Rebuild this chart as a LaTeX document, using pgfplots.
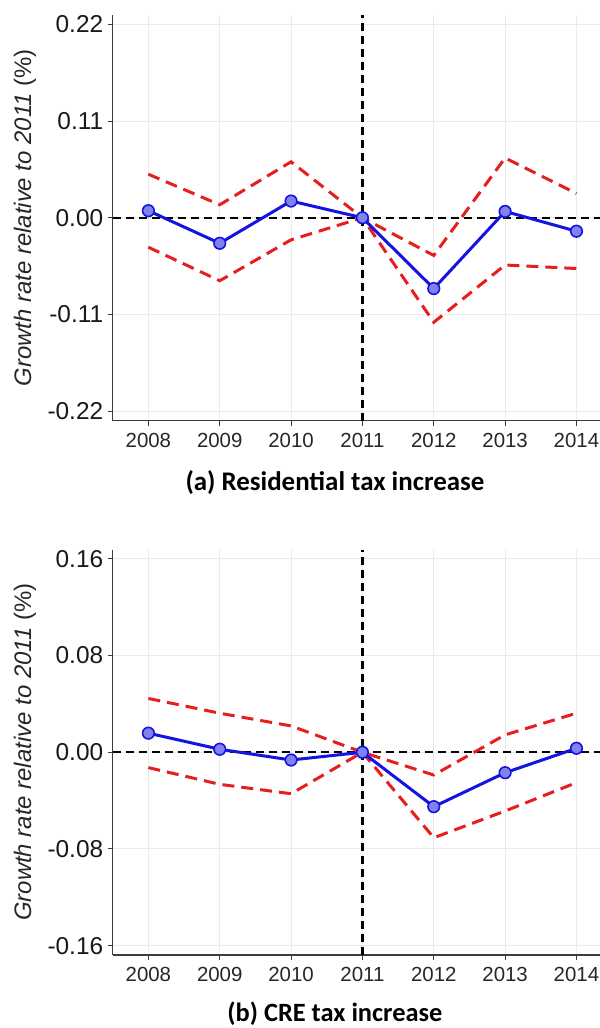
\documentclass[border=0pt]{standalone}
\usepackage{fontspec}
\setmainfont{Liberation Sans}
\newfontfamily\titlefont{Carlito}
\usepackage{pgfplots}
\usepackage{pgfplotstable}
\pgfplotsset{compat=1.18}
\definecolor{mainblue}{RGB}{20,20,225}
\definecolor{markfill}{RGB}{130,130,238}
\definecolor{cired}{RGB}{230,30,30}
\definecolor{axgray}{RGB}{60,60,60}

\pgfplotstableread{
x mid lo hi
0 0.0080 -0.0335 0.0495
1 -0.0290 -0.0716 0.0148
2 0.0190 -0.0251 0.0636
3 0.0000 0.0000 0.0000
4 -0.0805 -0.1188 -0.0428
5 0.0072 -0.0537 0.0680
6 -0.0153 -0.0577 0.0276
}\resdata

\pgfplotstableread{
x mid lo hi
0 0.0158 -0.0127 0.0445
1 0.0025 -0.0265 0.0323
2 -0.0064 -0.0343 0.0218
3 0.0000 0.0000 0.0000
4 -0.0450 -0.0707 -0.0188
5 -0.0169 -0.0486 0.0144
6 0.0033 -0.0251 0.0323
}\credata

\pgfplotsset{
  panel/.style={
    scale only axis, width=487.3bp, height=405.5bp,
    anchor=south west,
    xmin=-0.5, xmax=6.33,
    axis x line*=bottom, axis y line*=left,
    axis line style={draw=axgray, line width=1.3bp},
    tick align=outside, major tick length=5bp,
    tick style={draw=axgray, line width=1bp},
    grid=major, major grid style={draw=black!8, line width=1bp},
    xtick={0,1,2,3,4,5,6},
    xticklabels={2008,2009,2010,2011,2012,2013,2014},
    xticklabel style={font=\fontsize{20.5}{20.5}\selectfont, text=black!85, yshift=-4bp},
    yticklabel style={font=\fontsize{24.5}{24.5}\selectfont, text=black!90, xshift=-1bp},
    ylabel={\itshape Growth rate relative to 2011 \upshape(\%)},
    ylabel style={at={(axis description cs:-0.18,0.5)}, anchor=center, font=\fontsize{24}{24}\selectfont, text=black!85},
    xlabel style={at={(axis description cs:0.456,-0.152)}, anchor=center, font=\titlefont\bfseries\fontsize{27}{27}\selectfont},
    clip=false,
  },
  ci/.style={cired, line width=3bp, dash pattern=on 12bp off 7bp},
  est/.style={mainblue, line width=3bp, mark=*, mark size=5.8bp, mark options={solid, fill=markfill, draw=mainblue, line width=1.6bp}},
  ref/.style={black, line width=2.2bp, dash pattern=on 8bp off 5bp},
}

\begin{document}
\begin{tikzpicture}[x=1bp,y=1bp]
\path[use as bounding box] (0,0) rectangle (600,-1028);

\begin{axis}[panel, at={(112.7bp,-420.5bp)},
  ymin=-0.2305, ymax=0.2305,
  ytick={-0.22,-0.11,0,0.11,0.22},
  yticklabels={-0.22,-0.11,0.00,0.11,0.22},
  xlabel={(a) Residential tax increase}]
  \addplot[ref] coordinates {(-0.5,0) (6.33,0)};
  \addplot[ref] coordinates {(3,-0.2305) (3,0.2305)};
  \addplot[ci] table[x=x,y=hi] {\resdata};
  \addplot[ci] table[x=x,y=lo] {\resdata};
  \addplot[est] table[x=x,y=mid] {\resdata};
\end{axis}

\begin{axis}[panel, at={(112.7bp,-955bp)},
  ymin=-0.1677, ymax=0.1677,
  ytick={-0.16,-0.08,0,0.08,0.16},
  yticklabels={-0.16,-0.08,0.00,0.08,0.16},
  xlabel={(b) CRE tax increase},
  xlabel style={at={(axis description cs:0.456,-0.1445)}, font=\titlefont\bfseries\fontsize{26.5}{26.5}\selectfont}]
  \addplot[ref] coordinates {(-0.5,0) (6.33,0)};
  \addplot[ref] coordinates {(3,-0.1677) (3,0.1677)};
  \addplot[ci] table[x=x,y=hi] {\credata};
  \addplot[ci] table[x=x,y=lo] {\credata};
  \addplot[est] table[x=x,y=mid] {\credata};
\end{axis}
\end{tikzpicture}
\end{document}
